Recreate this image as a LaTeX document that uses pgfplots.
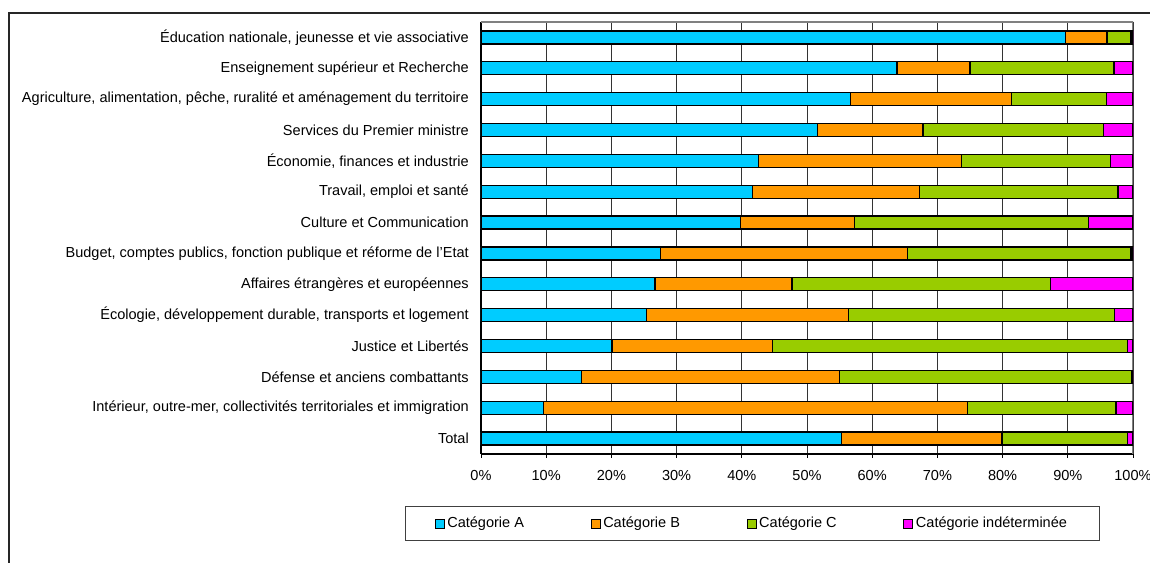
\documentclass[border=0pt]{standalone}
\usepackage{fontspec}
\setmainfont{Liberation Sans}
\usepackage{pgfplots}
\usepackage{pgfplotstable}
\pgfplotsset{compat=1.18}
\definecolor{catA}{HTML}{00CCFF}
\definecolor{catB}{HTML}{FF9900}
\definecolor{catC}{HTML}{99CC00}
\definecolor{catD}{HTML}{FF00FF}
\pgfplotstableread{
y A B C D
14 89.7 6.3 3.7 0.3
13 63.8 11.2 22.1 2.9
12 56.7 24.7 14.5 4.1
11 51.6 16.2 27.7 4.5
10 42.6 31.1 22.8 3.5
9 41.6 25.6 30.5 2.3
8 39.8 17.5 35.9 6.8
7 27.5 37.9 34.3 0.3
6 26.7 21.0 39.7 12.6
5 25.4 31.0 40.8 2.8
4 20.1 24.6 54.4 0.9
3 15.4 39.6 44.8 0.2
2 9.6 65.0 22.8 2.6
1 55.3 24.6 19.2 0.9
}\data
\begin{document}
\fontsize{10.9}{13}\selectfont
\begin{tikzpicture}[x=0.75pt,y=0.75pt]
\useasboundingbox (0,0) rectangle (1150,563);
\draw[line width=1.1pt, black!85] (9,0) -- (9,550) -- (1150,550);
\begin{axis}[
  at={(360.75pt,81.75pt)}, anchor=south west,
  scale only axis, width=489pt, height=324pt,
  xbar stacked, bar width=9.75pt,
  xmin=0, xmax=100, ymin=0.5, ymax=14.5,
  axis x line*=bottom, axis y line*=left,
  axis line style={black, line width=0.8pt, -},
  tick align=outside, major tick length=3pt,
  xtick={0,10,...,100},
  xticklabel={\pgfmathprintnumber{\tick}\%},
  /pgf/number format/assume math mode=true,
  x tick label style={inner sep=0pt, anchor=north, yshift=-9pt},
  xtick style={black, line width=0.6pt},
  ytick={1,...,14},
  ytick style={draw=none},
  y tick label style={inner sep=0pt, anchor=east, xshift=-6pt},
  yticklabels={Total,
    {Intérieur, outre-mer, collectivités territoriales et immigration},
    Défense et anciens combattants,
    Justice et Libertés,
    {Écologie, développement durable, transports et logement},
    Affaires étrangères et européennes,
    {Budget, comptes publics, fonction publique et réforme de l'Etat},
    Culture et Communication,
    {Travail, emploi et santé},
    {Économie, finances et industrie},
    Services du Premier ministre,
    {Agriculture, alimentation, pêche, ruralité et aménagement du territoire},
    Enseignement supérieur et Recherche,
    {Éducation nationale, jeunesse et vie associative}},
  xmajorgrids, major grid style={black!80, line width=0.6pt},
  legend columns=4,
  legend style={at={(0.416,-0.161)}, anchor=center, draw=black!75, line width=0.6pt,
    inner xsep=22pt, inner ysep=6pt,
    /tikz/every even column/.append style={column sep=48pt}},
  myleg/.style={legend image code/.code={\draw[##1,draw=black,line width=0.6pt] (0pt,-3.4pt) rectangle (6.8pt,3.4pt);}},
]
\addplot[fill=catA, draw=black, line width=0.9pt, myleg] table[x=A, y=y] {\data};
\addplot[fill=catB, draw=black, line width=0.9pt, myleg] table[x=B, y=y] {\data};
\addplot[fill=catC, draw=black, line width=0.9pt, myleg] table[x=C, y=y] {\data};
\addplot[fill=catD, draw=black, line width=0.9pt, myleg] table[x=D, y=y] {\data};
\legend{Catégorie A, Catégorie B, Catégorie C, Catégorie indéterminée}
\draw[black!50, line width=1pt] (rel axis cs:0,1) -- (rel axis cs:1,1) -- (rel axis cs:1,0);
\pgfplotsinvokeforeach{0.5,1.5,2.5,3.5,4.5,5.5,6.5,7.5,8.5,9.5,10.5,11.5,12.5,13.5,14.5}{\draw[black, line width=0.6pt] (axis cs:0,#1) -- ++(-3pt,0);}
\end{axis}
\end{tikzpicture}
\end{document}
